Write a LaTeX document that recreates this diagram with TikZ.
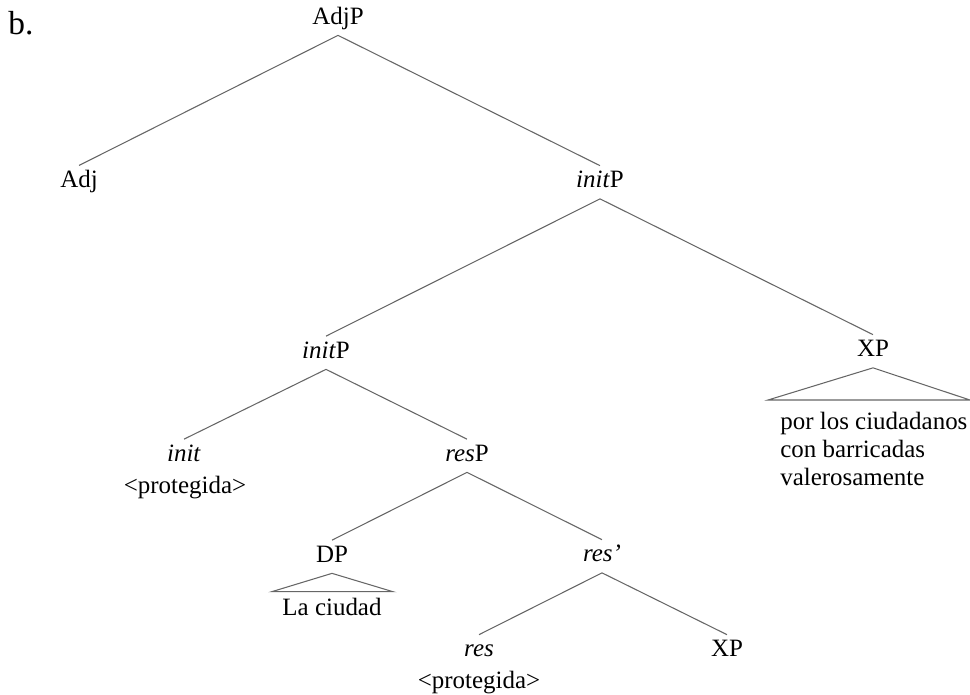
\documentclass[tikz,border=0pt]{standalone}
\usepackage{fontspec}
\setmainfont{Liberation Serif}
\usepackage{tikz}

\begin{document}
\begin{tikzpicture}[x=0.02cm, y=-0.02cm, font=\fontsize{14.2}{15.9}\selectfont]
		\tikzset{cat/.style={anchor=base, inner xsep=0pt, inner ysep=0.1cm, text height=0.33cm, text depth=0.12cm},
			leaf/.style={anchor=base, inner sep=0pt},
			branch/.style={draw=black!60, line width=0.6pt}}
		\useasboundingbox (0,0) rectangle (970,694);
		\node[leaf, font=\fontsize{19}{20}\selectfont] (ex) at (21,34.3) {b.};
		% upper part
		\node[cat] (adjp) at (338,24) {AdjP};
		\node[cat] (adj) at (79,187.3) {Adj};
		\node[cat] (initp) at (600,187.5) {\textit{init}P};
		\draw[branch] (adjp.south) -- (adj.north);
		\draw[branch] (adjp.south) -- (initp.north);
		\node[cat] (initpm) at (326,358) {\textit{init}P};
		\node[cat] (xpr) at (873,356.5) {XP};
		\draw[branch] (initp.south) -- (initpm.north);
		\draw[branch] (initp.south) -- (xpr.north);
		% XP with triangle
		\coordinate (xptl) at (768,400);
		\coordinate (xptr) at (970,400);
		\draw[branch] (xptl) -- (xpr.south) -- (xptr) -- cycle;
		\node[anchor=north west, align=left, inner sep=0pt] (xptext) at (780,412) {por los ciudadanos\\con barricadas\\valerosamente};
		% init and resP
		\node[cat] (init) at (184,461) {\textit{init}};
		\node[leaf] (initcopy) at (185,493.3) {<protegida>};
		\node[cat] (resp) at (467,461) {\textit{res}P};
		\draw[branch] (initpm.south) -- (init.north);
		\draw[branch] (initpm.south) -- (resp.north);
		\node[cat] (dp) at (332,562) {DP};
		\node[cat] (resbar) at (602,561.5) {\textit{res’}};
		\draw[branch] (resp.south) -- (dp.north);
		\draw[branch] (resp.south) -- (resbar.north);
		% DP with triangle
		\coordinate (dptl) at (271.7,591.7);
		\coordinate (dptr) at (393,591.7);
		\draw[branch] (dptl) -- (dp.south) -- (dptr) -- cycle;
		\node[leaf] (ciudad) at (332,615) {La ciudad};
		% lowest level
		\node[cat] (res) at (479,656.5) {\textit{res}};
		\node[leaf] (rescopy) at (479,688.5) {<protegida>};
		\node[cat] (xpb) at (727,656.5) {XP};
		\draw[branch] (resbar.south) -- (res.north);
		\draw[branch] (resbar.south) -- (xpb.north);
	\end{tikzpicture}
\end{document}
